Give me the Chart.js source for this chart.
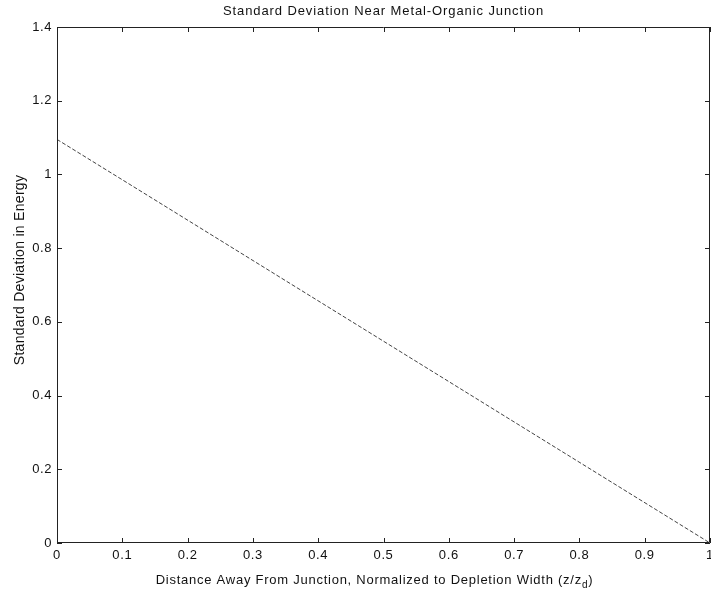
<!DOCTYPE html>
<html>
<head>
<meta charset="utf-8">
<script src="https://cdn.jsdelivr.net/npm/chart.js@4.4.1/dist/chart.umd.min.js"></script>
<style>
  html, body { margin: 0; padding: 0; background: #fff; }
  #wrap { width: 711px; height: 592px; }
</style>
</head>
<body>
<div id="wrap"><canvas id="chart"></canvas></div>
<script>
// data
const distance = [0, 1];
const stdDev = [1.095, 0];
const xTicks = [0, 0.1, 0.2, 0.3, 0.4, 0.5, 0.6, 0.7, 0.8, 0.9, 1];
const yTicks = [0, 0.2, 0.4, 0.6, 0.8, 1, 1.2, 1.4];

const points = distance.map((d, i) => ({ x: d, y: stdDev[i] }));
const family = 'Liberation Sans, Arial, sans-serif';

// matlab style box with inward ticks, plus title and axis labels (x has a subscript)
const boxTicks = {
  id: 'boxTicks',
  beforeDraw(chart) {
    chart.ctx.letterSpacing = '0.6px';
  },
  afterDraw(chart) {
    const { ctx, chartArea: a, scales } = chart;
    const len = 5;
    const midX = (a.left + a.right) / 2;
    ctx.save();
    ctx.strokeStyle = '#222';
    ctx.lineWidth = 1;
    ctx.beginPath();
    ctx.rect(a.left + 0.5, a.top + 0.5, a.right - a.left - 1, a.bottom - a.top - 1);
    xTicks.forEach(v => {
      const px = Math.round(scales.x.getPixelForValue(v)) + 0.5;
      ctx.moveTo(px, a.bottom); ctx.lineTo(px, a.bottom - len);
      ctx.moveTo(px, a.top); ctx.lineTo(px, a.top + len);
    });
    yTicks.forEach(v => {
      const py = Math.round(scales.y.getPixelForValue(v)) + 0.5;
      ctx.moveTo(a.left, py); ctx.lineTo(a.left + len, py);
      ctx.moveTo(a.right, py); ctx.lineTo(a.right - len, py);
    });
    ctx.stroke();

    ctx.fillStyle = '#111';

    // title, centred over the plot area
    ctx.textAlign = 'center';
    ctx.textBaseline = 'middle';
    ctx.font = '13px ' + family;
    ctx.letterSpacing = '0.9px';
    ctx.fillText('Standard Deviation Near Metal-Organic Junction', midX, a.top - 16);

    // x axis title: "... (z/z_d)"
    ctx.letterSpacing = '0.75px';
    const main = 'Distance Away From Junction, Normalized to Depletion Width (z/z';
    const sub = 'd';
    const close = ')';
    ctx.textBaseline = 'alphabetic';
    ctx.textAlign = 'left';
    ctx.font = '13px ' + family;
    const wMain = ctx.measureText(main).width;
    const wClose = ctx.measureText(close).width;
    ctx.font = '10px ' + family;
    const wSub = ctx.measureText(sub).width;
    const total = wMain + wSub + wClose;
    let x = midX - 9 - total / 2;
    const y = a.bottom + 41;
    ctx.font = '13px ' + family;
    ctx.fillText(main, x, y);
    x += wMain;
    ctx.font = '10px ' + family;
    ctx.fillText(sub, x, y + 4);
    x += wSub;
    ctx.font = '13px ' + family;
    ctx.fillText(close, x, y);

    // y axis title
    ctx.save();
    ctx.translate(20, (a.top + a.bottom) / 2 - 15);
    ctx.rotate(-Math.PI / 2);
    ctx.textAlign = 'center';
    ctx.textBaseline = 'middle';
    ctx.font = '14px ' + family;
    ctx.letterSpacing = '0.3px';
    ctx.fillText('Standard Deviation in Energy', 0, 0);
    ctx.restore();

    ctx.restore();
  }
};

const font = { family, size: 13 };

new Chart(document.getElementById('chart'), {
  type: 'line',
  data: {
    datasets: [{
      data: points,
      borderColor: '#444',
      borderWidth: 1,
      borderDash: [4, 2],
      pointRadius: 0,
      fill: false
    }]
  },
  options: {
    responsive: true,
    maintainAspectRatio: false,
    animation: false,
    layout: { padding: { left: 0, right: 1, top: 27, bottom: 0 } },
    plugins: {
      legend: { display: false },
      tooltip: { enabled: false },
      title: { display: false }
    },
    scales: {
      x: {
        type: 'linear',
        min: 0,
        max: 1,
        afterBuildTicks: s => { s.ticks = xTicks.map(v => ({ value: v })); },
        afterFit: s => { s.height = 49; s.paddingLeft = 0; s.paddingRight = 0; },
        grid: { display: false, drawTicks: false },
        border: { display: false },
        ticks: { color: '#111', font, padding: 5, maxRotation: 0, callback: v => String(v) },
        title: { display: false }
      },
      y: {
        min: 0,
        max: 1.4,
        afterBuildTicks: s => { s.ticks = yTicks.map(v => ({ value: v })); },
        afterFit: s => { s.width = 57; s.paddingTop = 0; },
        grid: { display: false, drawTicks: false },
        border: { display: false },
        ticks: { color: '#111', font, padding: 5, callback: v => String(v) },
        title: { display: false }
      }
    }
  },
  plugins: [boxTicks]
});
</script>
</body>
</html>
